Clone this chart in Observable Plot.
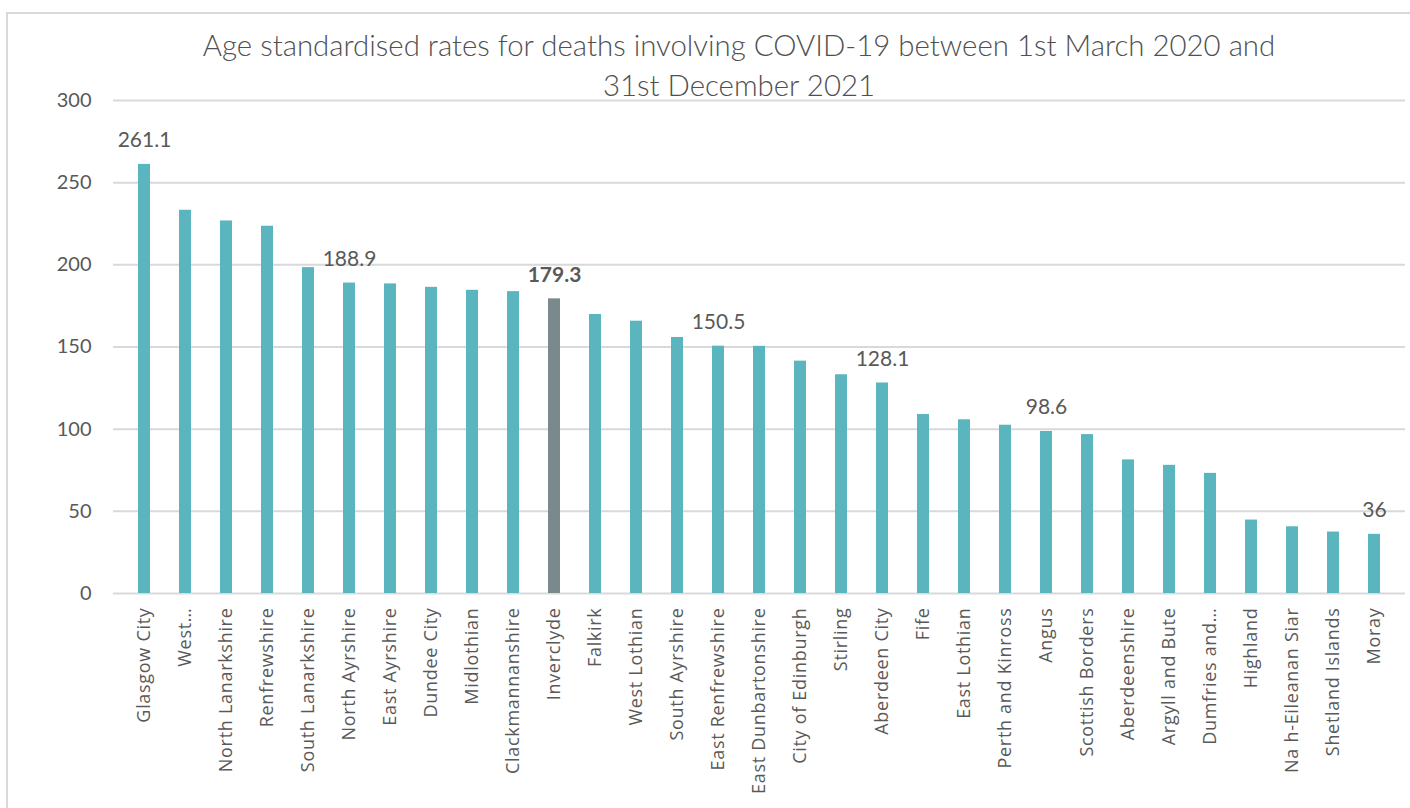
<!DOCTYPE html>
<html>
<head>
<meta charset="utf-8">
<script src="https://cdn.jsdelivr.net/npm/d3@7"></script>
<script src="https://cdn.jsdelivr.net/npm/@observablehq/plot@0.6"></script>
<style>
  html, body { margin: 0; padding: 0; background: #fff; overflow: hidden; }
  #wrap { position: relative; width: 1410px; height: 808px; overflow: hidden; }
  #frame { position: absolute; left: 6px; top: 12px; width: 1500px; height: 900px; border: 2px solid #d9d9d9; box-sizing: border-box; }
  #title { position: absolute; left: 0; top: 25px; width: 1478px; text-align: center; font-family: Lato, sans-serif; font-weight: 300; font-size: 29.4px; line-height: 40px; color: #505050; }
  #chart { position: absolute; left: 0; top: 70px; }
  #chart svg g[aria-label="x-axis tick label"] text { letter-spacing: 0.7px; }
</style>
</head>
<body>
<div id="wrap">
  <div id="frame"></div>
  <div id="title">Age standardised rates for deaths involving COVID-19 between 1st March 2020 and<br>31st December 2021</div>
  <div id="chart"></div>
</div>
<script>
const councils = ["Glasgow City", "West…", "North Lanarkshire", "Renfrewshire", "South Lanarkshire",
  "North Ayrshire", "East Ayrshire", "Dundee City", "Midlothian", "Clackmannanshire", "Inverclyde",
  "Falkirk", "West Lothian", "South Ayrshire", "East Renfrewshire", "East Dunbartonshire",
  "City of Edinburgh", "Stirling", "Aberdeen City", "Fife", "East Lothian", "Perth and Kinross",
  "Angus", "Scottish Borders", "Aberdeenshire", "Argyll and Bute", "Dumfries and…", "Highland",
  "Na h-Eileanan Siar", "Shetland Islands", "Moray"];
const rates = [261.1, 233.2, 226.7, 223.5, 198.3, 188.9, 188.4, 186.3, 184.5, 183.7, 179.3,
  169.8, 165.7, 155.8, 150.5, 150.4, 141.4, 133.1, 128.1, 108.9, 105.7, 102.4,
  98.6, 96.7, 81.3, 78.0, 73.1, 44.7, 40.6, 37.4, 36];
const highlighted = "Inverclyde";
const labelledCouncils = ["Glasgow City", "North Ayrshire", "East Renfrewshire", "Aberdeen City", "Angus", "Moray"];
const labelTexts = ["261.1", "188.9", "150.5", "128.1", "98.6", "36"];
const boldLabelText = "179.3";
const yTicks = [0, 50, 100, 150, 200, 250, 300];

const data = councils.map((c, i) => ({council: c, rate: rates[i]}));
const labels = labelledCouncils.map((c, i) => ({council: c, rate: rates[councils.indexOf(c)], text: labelTexts[i]}));
const boldLabels = [{council: highlighted, rate: rates[councils.indexOf(highlighted)], text: boldLabelText}];

const teal = "#5ab5bf";
const grey = "#7a8a8c";
const textColor = "#595959";

const chart = Plot.plot({
  width: 1410,
  height: 738,
  marginLeft: 113,
  marginRight: 5,
  marginTop: 30,
  marginBottom: 215,
  style: {fontFamily: "Lato, sans-serif", color: textColor, background: "transparent"},
  x: {domain: councils, paddingInner: 0.7, paddingOuter: 0.35, label: null},
  y: {domain: [0, 300], label: null},
  marks: [
    Plot.gridY(yTicks, {stroke: "#d9d9d9", strokeOpacity: 1, strokeWidth: 2}),
    Plot.barY(data, {x: "council", y: "rate", fill: d => d.council === highlighted ? grey : teal}),
    Plot.text(labels, {x: "council", y: "rate", text: "text", lineAnchor: "bottom", dy: -17, fontSize: 21, fontWeight: 400, fill: textColor, fontFamily: "Lato, sans-serif"}),
    Plot.text(boldLabels, {x: "council", y: "rate", text: "text", lineAnchor: "bottom", dy: -17, fontSize: 21, fontWeight: "bold", fill: textColor, fontFamily: "Lato, sans-serif"}),
    Plot.axisY({ticks: yTicks, tickSize: 0, tickPadding: 22, fontSize: 20, fill: textColor, fontFamily: "Lato, sans-serif", label: null}),
    Plot.axisX({tickRotate: -90, tickSize: 0, tickPadding: 14, fontSize: 18, fill: textColor, fontFamily: "'Open Sans', sans-serif", label: null})
  ]
});
document.getElementById("chart").appendChild(chart);
</script>
</body>
</html>
